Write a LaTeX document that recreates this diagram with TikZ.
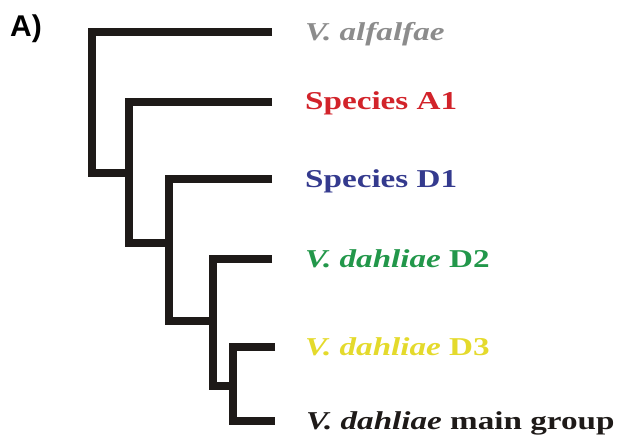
\documentclass[tikz,border=0pt]{standalone}
\usepackage{fontspec}
\setmainfont{Liberation Serif}
\newfontfamily\panelfont{Liberation Sans}
\usepackage{graphicx}
\definecolor{cgray}{HTML}{8C8C8C}
\definecolor{cred}{HTML}{D2232A}
\definecolor{cblue}{HTML}{343A8E}
\definecolor{cgreen}{HTML}{22974A}
\definecolor{cyellow}{HTML}{E4DA2C}
\definecolor{cblack}{HTML}{1E1A18}
\tikzset{
  branch/.style={line width=8.5pt, draw=cblack, line join=miter, line cap=butt},
  taxon/.style={anchor=base west, inner sep=0pt, font=\fontsize{25.7}{28}\selectfont\bfseries},
}
\newcommand{\wide}[1]{\scalebox{1.29}[1]{#1}}
\begin{document}
\begin{tikzpicture}[x=1pt,y=-1pt]
\useasboundingbox (0,0) rectangle (629,442);
% panel label
\node[anchor=base west, inner sep=0pt, font=\panelfont\fontsize{30}{32}\selectfont\bfseries] (panel) at (10,36) {A)};
% leaf ends
\coordinate (e1) at (272,32);
\coordinate (e2) at (272,102);
\coordinate (e3) at (272,179);
\coordinate (e4) at (272,259);
\coordinate (e5) at (275,347);
\coordinate (e6) at (275,421);
% internal joints
\coordinate (root) at (92,173);
\coordinate (k2) at (129,173);
\coordinate (k2b) at (129,243);
\coordinate (k3) at (169,243);
\coordinate (k3b) at (169,321);
\coordinate (k4) at (213,321);
\coordinate (k4b) at (213,386);
\coordinate (k5) at (233,386);
\coordinate (k5b) at (233,421);
% tree
\draw[branch] (e1) -| (root) -- (k2);
\draw[branch] (e2) -| (k2b) -- (k3);
\draw[branch] (e3) -| (k3b) -- (k4);
\draw[branch] (e4) -| (k4b) -- (k5);
\draw[branch] (e5) -| (k5b) -- (e6);
% labels
\node[taxon, text=cgray]   (t1) at (305,40.5)  {\wide{\itshape V. alfalfae}};
\node[taxon, text=cred]    (t2) at (305,109)   {\wide{Species A1}};
\node[taxon, text=cblue]   (t3) at (305,187.5) {\wide{Species D1}};
\node[taxon, text=cgreen]  (t4) at (305,267.5) {\wide{\textit{V. dahliae} D2}};
\node[taxon, text=cyellow] (t5) at (305,355.5) {\wide{\textit{V. dahliae} D3}};
\node[taxon, text=cblack]  (t6) at (306,429.5) {\wide{\textit{V. dahliae} main group}};
\end{tikzpicture}
\end{document}
